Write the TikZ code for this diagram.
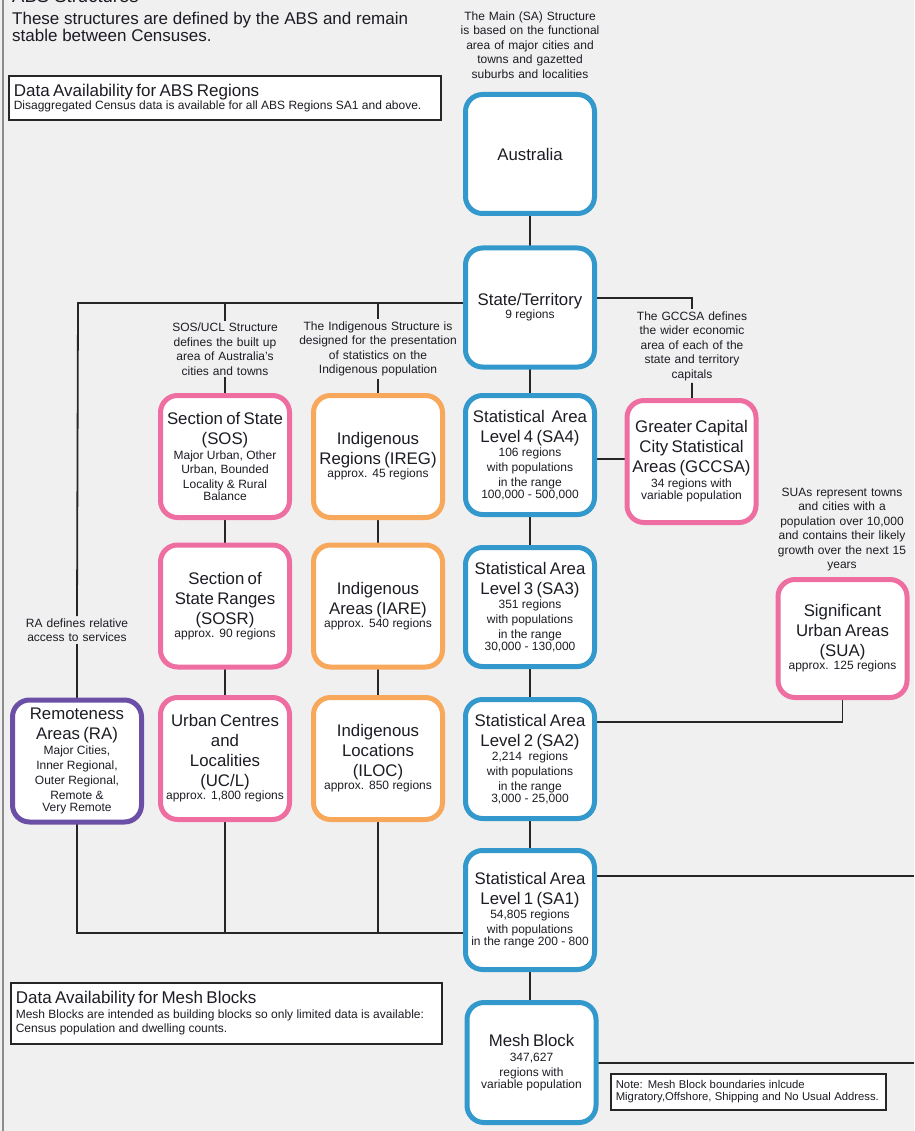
\documentclass[tikz,border=0pt]{standalone}
\usepackage{fontspec}
\setmainfont{Liberation Sans}
\usetikzlibrary{calc}
\pgfdeclarelayer{bg}
\pgfsetlayers{bg,main}
\definecolor{bgc}{HTML}{F0F0F0}
\definecolor{blueC}{HTML}{3399CC}
\definecolor{pinkC}{HTML}{EE6EA2}
\definecolor{orangeC}{HTML}{F7A85A}
\definecolor{purpleC}{HTML}{6B4FA6}
\definecolor{txt}{HTML}{1C1C24}
\newcommand{\bigf}{\fontsize{16.8}{20}\selectfont}
\newcommand{\smf}{\fontsize{12}{14.8}\selectfont}
\newcommand{\ntf}{\fontsize{12}{14.5}\selectfont}
\tikzset{
  regbox/.style={draw=#1, line width=5pt, fill=white, rounded corners=17pt,
    minimum width=129pt, minimum height=122pt, text width=127pt,
    inner xsep=1pt, inner ysep=0pt, align=center, text=txt, outer sep=0pt},
  bluebox/.style={regbox=blueC, minimum height=119pt},
  note/.style={text width=172pt, align=center, inner sep=2pt, text=txt, font=\ntf},
  conn/.style={draw=black!85, line width=1.8pt},
  infobox/.style={draw=black!85, line width=1.6pt, fill=white, anchor=north west,
    align=left, text=txt, inner xsep=5pt, inner ysep=2pt}
}
\begin{document}
\begin{tikzpicture}[x=1pt,y=-1pt]
\useasboundingbox (0,0) rectangle (914,1131);
\begin{pgfonlayer}{bg}
  \fill[bgc] (0,0) rectangle (914,1131);
  \draw[black!45, line width=2pt] (3,0) -- (3,1131);
\end{pgfonlayer}
\clip (0,0) rectangle (914,1131);

% header texts
\node[anchor=base west, inner sep=0pt, text=txt, font=\fontsize{18.5}{20}\selectfont] (title) at (12,3) {ABS Structures};
\node[anchor=north west, inner sep=0pt, text=txt, align=left, font=\fontsize{17}{17}\selectfont] (intro) at (12,12)
  {These structures are defined by the ABS and remain\\stable between Censuses.};
\node[infobox, minimum width=432pt, minimum height=44pt, text width=422pt] (absinfo) at (8,75)
  {{\fontsize{17}{18}\selectfont Data Availability for ABS Regions\par}
   {\fontsize{12}{13}\selectfont Disaggregated Census data is available for all ABS Regions SA1 and above.\par}};
\node[infobox, minimum width=431pt, minimum height=61pt, text width=421pt] (meshinfo) at (10,982)
  {{\fontsize{17}{18}\selectfont Data Availability for Mesh Blocks\par}
   {\fontsize{12}{14.5}\selectfont Mesh Blocks are intended as building blocks so only limited data is available:\\Census population and dwelling counts.\par}};
\node[infobox, minimum width=275pt, minimum height=36pt, text width=265pt, inner xsep=4pt] (meshnote) at (610,1073)
  {\fontsize{11.3}{14.5}\selectfont Note: Mesh Block boundaries inlcude\\Migratory,Offshore, Shipping and No Usual Address.};

% main SA column
\node[bluebox] (aus) at (530,154) {\bigf Australia};
\node[bluebox] (state) at (530,307.5) {\bigf State/Territory\par\smf 9 regions};
\node[bluebox] (sa4) at (530,455) {\bigf Statistical\ \ Area\\Level 4 (SA4)\par\smf 106 regions\\with populations\\in the range\\100,000 - 500,000};
\node[bluebox] (sa3) at (530,607) {\bigf Statistical Area\\Level 3 (SA3)\par\smf 351 regions\\with populations\\in the range\\30,000 - 130,000};
\node[bluebox] (sa2) at (530,759) {\bigf Statistical Area\\Level 2 (SA2)\par\smf 2,214\ \ regions\\with populations\\in the range\\3,000 - 25,000};
\node[bluebox] (sa1) at (530,910) {\bigf Statistical Area\\Level 1 (SA1)\par\smf 54,805 regions\\with populations\\in the range 200 - 800};
\node[bluebox, minimum height=120pt] (mesh) at (531.5,1062.5) {\bigf Mesh Block\par\smf 347,627\\regions with\\variable population};

% SOS/UCL column
\node[regbox=pinkC] (sos) at (225,456.5) {\bigf Section of State\\(SOS)\par\smf Major Urban, Other\\Urban, Bounded\\Locality \& Rural\\Balance};
\node[regbox=pinkC] (sosr) at (225,606) {\bigf Section of\\State Ranges\\(SOSR)\par\smf approx. 90 regions};
\node[regbox=pinkC] (ucl) at (225,758.5) {\bigf Urban Centres\\and\\Localities\\(UC/L)\par\smf approx. 1,800 regions};

% Indigenous column
\node[regbox=orangeC] (ireg) at (378,456.5) {\bigf Indigenous\\Regions (IREG)\par\smf approx. 45 regions};
\node[regbox=orangeC] (iare) at (378,606) {\bigf Indigenous\\Areas (IARE)\par\smf approx. 540 regions};
\node[regbox=orangeC] (iloc) at (378,758.5) {\bigf Indigenous\\Locations\\(ILOC)\par\smf approx. 850 regions};

% others
\node[regbox=purpleC] (ra) at (77,761) {\bigf Remoteness\\Areas (RA)\par\smf Major Cities,\\Inner Regional,\\Outer Regional,\\Remote \&\\Very Remote};
\node[regbox=pinkC, minimum width=128pt] (gccsa) at (691.5,461.5) {\bigf Greater Capital\\City Statistical\\Areas (GCCSA)\par\smf 34 regions with\\variable population};
\node[regbox=pinkC, minimum width=126pt, minimum height=118pt] (sua) at (842.5,638.5) {\bigf Significant\\Urban Areas\\(SUA)\par\smf approx. 125 regions};

% annotations
\node[note] (mainnote) at (530,45) {The Main (SA) Structure\\is based on the functional\\area of major cities and\\towns and gazetted\\suburbs and localities};
\node[note] (sosnote) at (225,349) {SOS/UCL Structure\\defines the built up\\area of Australia's\\cities and towns};
\node[note] (indnote) at (378,349) {The Indigenous Structure is\\designed for the presentation\\of statistics on the\\Indigenous population};
\node[note] (gccnote) at (692,346) {The GCCSA defines\\the wider economic\\area of each of the\\state and territory\\capitals};
\node[note] (suanote) at (842,529.5) {SUAs represent towns\\and cities with a\\population over 10,000\\and contains their likely\\growth over the next 15\\years};
\node[note] (ranote) at (77,630) {RA defines relative\\access to services};

% helper coordinates
\coordinate (busL) at (78,303);
\coordinate (busS) at (225,303);
\coordinate (busI) at (378,303);
\coordinate (gj) at (692,298);
\coordinate (g4) at (0,459);
\coordinate (g2) at (0,722);
\coordinate (bb) at (78,933);
\coordinate (r1) at (914,876);
\coordinate (r2) at (914,1063);

\begin{pgfonlayer}{bg}
  \draw[conn] (aus) -- (state) -- (sa4) -- (sa3) -- (sa2) -- (sa1) -- (sa1 |- mesh);
  \draw[conn] (state |- busL) -- (busL) -- (ranote.north);
  \draw[conn] (ranote.south) -- (ra);
  \draw[conn] (busS) -- (sosnote.north);
  \draw[conn] (sosnote.south) -- (sos);
  \draw[conn] (busI) -- (indnote.north);
  \draw[conn] (indnote.south) -- (ireg);
  \draw[conn] (state |- gj) -- (gj) -- (gccnote.north);
  \draw[conn] (gccnote.south) -- (gccsa);
  \draw[conn] (sa4 |- g4) -- (gccsa |- g4);
  \draw[conn] (sos) -- (sosr) -- (ucl);
  \draw[conn] (ireg) -- (iare) -- (iloc);
  \draw[conn] (sa2 |- g2) -| (sua);
  \draw[conn] (sa1 |- r1) -- (r1);
  \draw[conn] (mesh |- r2) -- (r2);
  \draw[conn] (ra) -- (ra |- bb) -- (sa1 |- bb);
  \draw[conn] (ucl) -- (ucl |- bb);
  \draw[conn] (iloc) -- (iloc |- bb);
\end{pgfonlayer}
\end{tikzpicture}
\end{document}
